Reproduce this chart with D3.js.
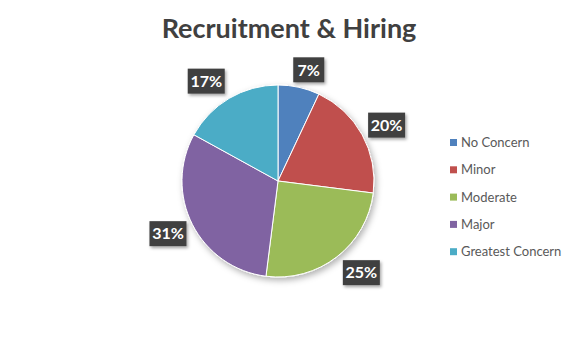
<!DOCTYPE html>
<html lang="en">
<meta charset="utf-8" />
<style>
    body { margin: 0; background: #fff; }
    .title { font-family: Lato, "Open Sans", sans-serif; font-weight: bold; fill: #404040; }
    .legend text { font-family: Lato, "Open Sans", sans-serif; fill: #595959; }
    .lbl text { font-family: Lato, "Open Sans", sans-serif; font-weight: bold; fill: #fff; }
</style>
<body>
<svg width="580" height="346"></svg>
<script src="https://d3js.org/d3.v7.min.js"></script>
<script>
    var categories = ["No Concern", "Minor", "Moderate", "Major", "Greatest Concern"]
    var values = [7, 20, 25, 31, 17]
    var colors = ["#4F81BD", "#C0504D", "#9BBB59", "#8064A2", "#4BACC6"]

    var svg = d3.select("svg")
    var cx = 278, cy = 181, r = 96

    var defs = svg.append("defs")
    defs.append("filter").attr("id", "pieShadow")
        .attr("x", "-20%").attr("y", "-20%").attr("width", "140%").attr("height", "140%")
        .append("feDropShadow")
        .attr("dx", 2).attr("dy", 3).attr("stdDeviation", 3)
        .attr("flood-color", "#000").attr("flood-opacity", 0.3)
    defs.append("filter").attr("id", "boxShadow")
        .attr("x", "-30%").attr("y", "-30%").attr("width", "160%").attr("height", "160%")
        .append("feDropShadow")
        .attr("dx", 1.5).attr("dy", 2).attr("stdDeviation", 1.5)
        .attr("flood-color", "#000").attr("flood-opacity", 0.35)

    svg.append("text")
        .attr("class", "title")
        .attr("x", 289)
        .attr("y", 38)
        .attr("text-anchor", "middle")
        .attr("font-size", 27)
        .text("Recruitment & Hiring")

    var pie = d3.pie().sort(null).value(d => d)
    var arcs = pie(values)
    var arc = d3.arc().innerRadius(0).outerRadius(r)

    var g = svg.append("g").attr("transform", "translate(" + cx + "," + cy + ")")

    g.append("g").attr("filter", "url(#pieShadow)")
        .selectAll("path")
        .data(arcs)
        .enter()
        .append("path")
        .attr("d", arc)
        .attr("fill", (d, i) => colors[i])
        .attr("stroke", "#fff")
        .attr("stroke-width", 1)

    // outside-end labels: start on the rim, then push the box out (clamped)
    var clamp = (v, m) => Math.max(-m, Math.min(m, v))
    g.selectAll("g.lbl")
        .data(arcs)
        .enter()
        .append("g")
        .attr("class", "lbl")
        .each(function(d) {
            var t = d.data + "%"
            var w = t.length > 2 ? 37 : 31, h = 25
            var a = (d.startAngle + d.endAngle) / 2
            var s = Math.sin(a), c = Math.cos(a)
            var x = s * r + clamp(s * 45, w / 2 + 6)
            var y = -c * r + clamp(-c * 20, h / 2 + 5)
            var el = d3.select(this).attr("transform", "translate(" + x + "," + y + ")")
            el.append("rect")
                .attr("x", -w / 2).attr("y", -h / 2)
                .attr("width", w).attr("height", h)
                .attr("fill", "#404040")
                .attr("filter", "url(#boxShadow)")
            el.append("text")
                .attr("text-anchor", "middle")
                .attr("dy", "0.36em")
                .attr("font-size", 16)
                .text(t)
        })

    var legend = svg.append("g").attr("class", "legend")
        .attr("transform", "translate(450,142.5)")
    var row = legend.selectAll("g")
        .data(categories)
        .enter()
        .append("g")
        .attr("transform", (d, i) => "translate(0," + (i * 27.3) + ")")
    row.append("rect")
        .attr("x", 0).attr("y", -3.5)
        .attr("width", 7).attr("height", 7)
        .attr("fill", (d, i) => colors[i])
    row.append("text")
        .attr("x", 11)
        .attr("dy", "0.35em")
        .attr("font-size", 13)
        .text(d => d)
</script>
</body>
</html>
